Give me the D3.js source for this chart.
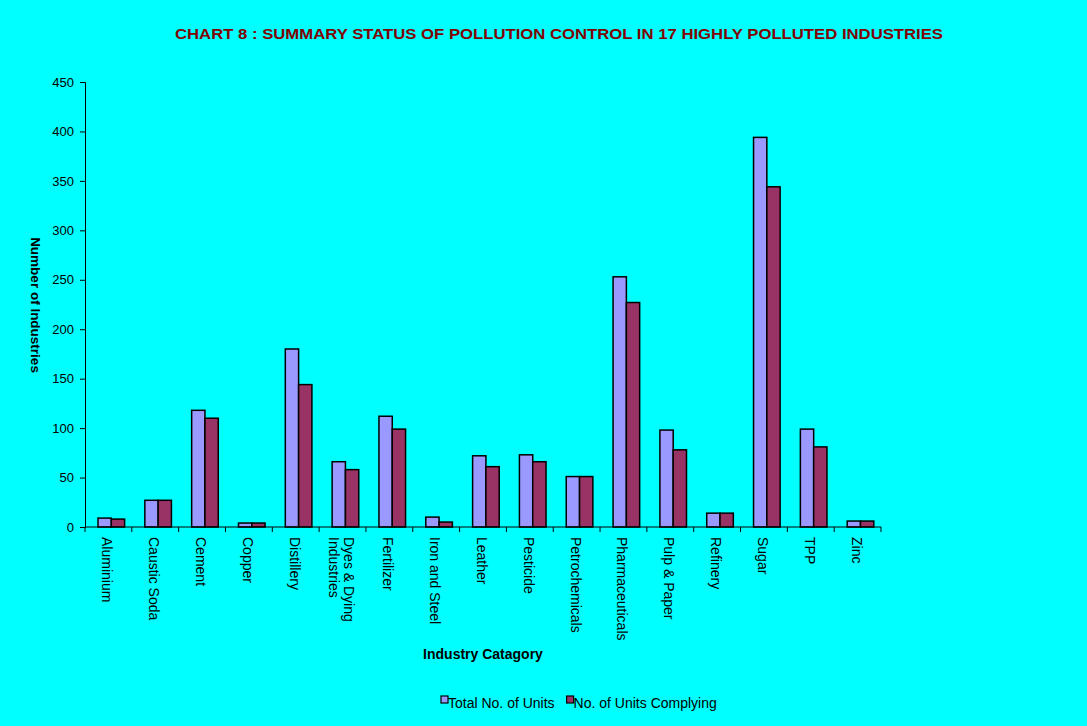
<!DOCTYPE html>
<html>
<head>
<meta charset="utf-8">
<script src="https://cdn.jsdelivr.net/npm/d3@7"></script>
<style>
  html, body { margin: 0; padding: 0; background: #00ffff; }
  svg { display: block; font-family: 'Liberation Sans', Arial, sans-serif; }
</style>
</head>
<body>
<div id="chart"></div>
<script>
const categories = [
  'Aluminium', 'Caustic Soda', 'Cement', 'Copper', 'Distillery',
  'Dyes & Dying|Industries', 'Fertilizer', 'Iron and Steel', 'Leather',
  'Pesticide', 'Petrochemicals', 'Pharmaceuticals', 'Pulp & Paper',
  'Refinery', 'Sugar', 'TPP', 'Zinc'
];
const totalUnits = [9, 27, 118, 4, 180, 66, 112, 10, 72, 73, 51, 253, 98, 14, 394, 99, 6];
const complyingUnits = [8, 27, 110, 4, 144, 58, 99, 5, 61, 66, 51, 227, 78, 14, 344, 81, 6];
const yTicks = [0, 50, 100, 150, 200, 250, 300, 350, 400, 450];
const seriesNames = ['Total No. of Units', 'No. of Units Complying'];
const seriesColors = ['#9999ff', '#993366'];

const width = 1087, height = 726;
const margin = { top: 82, right: 206, bottom: 199, left: 85 };

const svg = d3.select('#chart').append('svg')
  .attr('width', width)
  .attr('height', height);

svg.append('rect').attr('width', width).attr('height', height).attr('fill', '#00ffff');

svg.append('text')
  .attr('x', 175)
  .attr('y', 39)
  .attr('font-size', '15.5px')
  .attr('font-weight', 'bold')
  .attr('fill', '#800000')
  .attr('textLength', 768)
  .attr('lengthAdjust', 'spacingAndGlyphs')
  .text('CHART 8 : SUMMARY STATUS OF POLLUTION CONTROL IN 17 HIGHLY POLLUTED INDUSTRIES');

const x = d3.scaleBand()
  .domain(categories)
  .range([margin.left, width - margin.right])
  .padding(0);

const y = d3.scaleLinear()
  .domain([0, 450])
  .range([height - margin.bottom, margin.top]);

const chart = svg.append('g');

// y axis
const yAxis = chart.append('g')
  .attr('transform', 'translate(' + margin.left + ',0)')
  .call(d3.axisLeft(y).tickValues(yTicks).tickSize(5).tickPadding(6));
yAxis.select('.domain').attr('stroke', '#000');
yAxis.selectAll('.tick line').attr('stroke', '#000');
yAxis.selectAll('text').attr('font-size', '13px').attr('fill', '#000').attr('font-family', null);

// bars
const barOffset = x.bandwidth() * 0.278;
const barWidth = x.bandwidth() * 0.284;
const seriesData = [totalUnits, complyingUnits];

seriesData.forEach(function(values, s) {
  chart.append('g')
    .selectAll('rect')
    .data(categories)
    .enter()
    .append('rect')
    .attr('x', function(d) { return x(d) + barOffset + s * barWidth; })
    .attr('y', function(d, i) { return y(values[i]); })
    .attr('width', barWidth)
    .attr('height', function(d, i) { return y(0) - y(values[i]); })
    .attr('fill', seriesColors[s])
    .attr('stroke', '#000')
    .attr('stroke-width', 1.5);
});

// x axis
const xAxis = chart.append('g')
  .attr('transform', 'translate(0,' + y(0) + ')');
xAxis.append('line')
  .attr('x1', margin.left).attr('x2', width - margin.right)
  .attr('stroke', '#000');
const boundaries = categories.map(function(d) { return x(d); }).concat([x(categories[categories.length - 1]) + x.bandwidth()]);
xAxis.selectAll('.xtick')
  .data(boundaries)
  .enter()
  .append('line')
  .attr('class', 'xtick')
  .attr('x1', function(d) { return d; }).attr('x2', function(d) { return d; })
  .attr('y1', 0).attr('y2', 5)
  .attr('stroke', '#000');

const labels = xAxis.selectAll('.xlabel')
  .data(categories)
  .enter()
  .append('text')
  .attr('class', 'xlabel')
  .attr('font-size', '14px')
  .attr('fill', '#000')
  .attr('transform', function(d) {
    const lines = d.split('|').length;
    return 'translate(' + (x(d) + x.bandwidth() / 2 - 6 + (lines - 1) * 7.5) + ',10) rotate(90)';
  });
labels.each(function(d) {
  const t = d3.select(this);
  d.split('|').forEach(function(line, i) {
    t.append('tspan').attr('x', 0).attr('dy', i === 0 ? 0 : 15).text(line);
  });
});

// axis titles
svg.append('text')
  .attr('transform', 'translate(31,305) rotate(90)')
  .attr('text-anchor', 'middle')
  .attr('font-size', '13.5px')
  .attr('font-weight', 'bold')
  .text('Number of Industries');

svg.append('text')
  .attr('x', 483)
  .attr('y', 659)
  .attr('text-anchor', 'middle')
  .attr('font-size', '14px')
  .attr('font-weight', 'bold')
  .text('Industry Catagory');

// legend
const legend = svg.append('g');
let legendX = 441;
seriesNames.forEach(function(name, i) {
  legend.append('rect')
    .attr('x', legendX).attr('y', 696)
    .attr('width', 7).attr('height', 7)
    .attr('fill', seriesColors[i])
    .attr('stroke', '#000')
    .attr('stroke-width', 1.2);
  const label = legend.append('text')
    .attr('x', legendX + 7)
    .attr('y', 708)
    .attr('font-size', '14px')
    .attr('fill', '#000')
    .text(name);
  legendX += 7 + label.node().getComputedTextLength() + 12;
});
</script>
</body>
</html>
